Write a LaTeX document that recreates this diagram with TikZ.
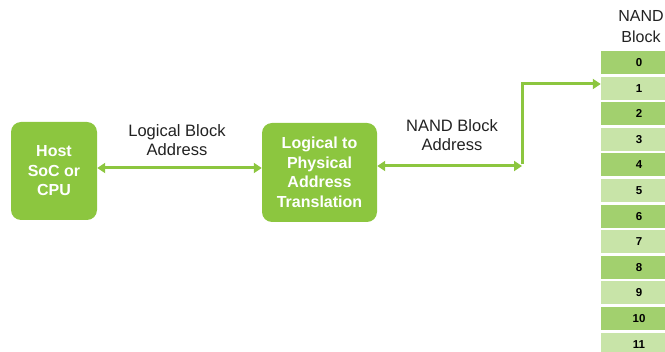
\documentclass[tikz,border=0pt]{standalone}
\usepackage{fontspec}
\setmainfont{Liberation Sans}
\usetikzlibrary{arrows.meta}
\definecolor{boxgreen}{HTML}{8CC63F}
\definecolor{rowdark}{HTML}{A2D06E}
\definecolor{rowlight}{HTML}{C8E4A8}
\definecolor{linegreen}{HTML}{8CC63F}
\definecolor{labelgray}{HTML}{222222}
\tikzset{
  procbox/.style={fill=boxgreen, draw=none, rounded corners=10pt, text=white,
    font=\bfseries\fontsize{16}{19.5}\selectfont, align=center, inner sep=0pt},
  lbl/.style={text=labelgray, font=\fontsize{16.5}{18.5}\selectfont, align=center, inner sep=0pt},
  rowcell/.style={draw=none, minimum width=76pt, minimum height=23pt, inner sep=0pt,
    font=\bfseries\fontsize{11.5}{12}\selectfont},
  conn/.style={draw=linegreen, line width=3pt, {Triangle[length=8pt,width=10pt]}-{Triangle[length=8pt,width=10pt]}},
  connone/.style={draw=linegreen, line width=3pt, -{Triangle[length=8pt,width=10pt]}}
}
\begin{document}
\begin{tikzpicture}[x=1pt,y=-1pt]
\useasboundingbox (0,0) rectangle (665,352);
\node[procbox, minimum width=86pt, minimum height=98pt] (host) at (54,171) {Host\\SoC or\\CPU};
\node[procbox, minimum width=115pt, minimum height=99pt] (l2p) at (319.5,172.5) {Logical to\\Physical\\Address\\Translation};
\node[lbl] (lba) at (177,140) {Logical Block\\Address};
\node[lbl] (nba) at (452,135) {NAND Block\\Address};
\node[lbl, font=\fontsize{16}{21}\selectfont] (hdr) at (641,27) {NAND\\Block};
\foreach \i in {0,...,11} {
  \pgfmathtruncatemacro{\r}{mod(\i,2)}
  \ifnum\r=0 \def\rc{rowdark}\else\def\rc{rowlight}\fi
  \node[rowcell, fill=\rc] (b\i) at (639,{62.5+25.6*\i}) {\i};
}
\coordinate (turn) at (522,166);
\draw[conn] (host.east |- 0,168) -- (l2p.west |- 0,168);
\draw[conn] (l2p.east |- turn) -- (turn);
\draw[connone] ([yshift=1.5pt]turn) -- (522,84) -- (b1.west |- 0,84);
\end{tikzpicture}
\end{document}
